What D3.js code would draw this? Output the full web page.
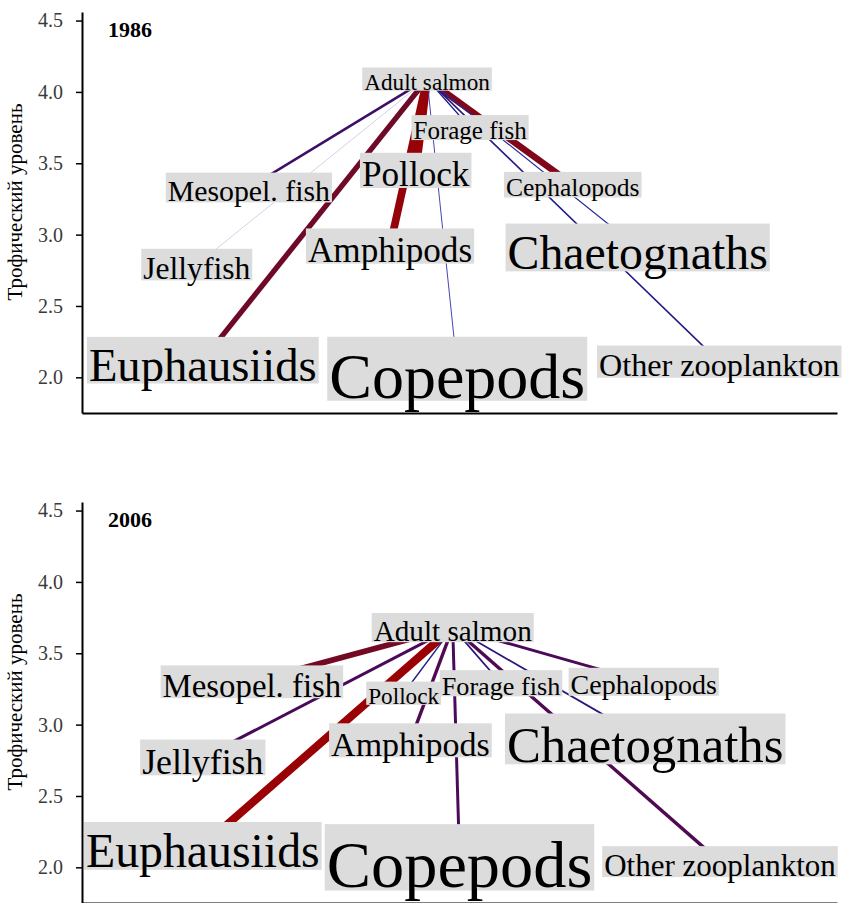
<!DOCTYPE html>
<html>
<head>
<meta charset="utf-8" />
<title>Trophic webs</title>
<script src="https://cdn.jsdelivr.net/npm/d3@7"></script>
<style>
    body { margin: 0; background: #fff; }
    .axis path, .axis line { stroke: #000; }
    .axis path { stroke-width: 2px; }
    .axis line { stroke-width: 1.5px; }
    .lbl { font-family: "Liberation Serif", "Times New Roman", serif; fill: #000; }
    .link { fill: none; stroke-linecap: butt; }
</style>
</head>
<body>
<svg width="844" height="903"></svg>
<script>

    // groups of the food web (index 0 = predator)
    var groups = ["Adult salmon", "Forage fish", "Pollock", "Cephalopods", "Mesopel. fish",
                  "Chaetognaths", "Amphipods", "Jellyfish", "Euphausiids", "Copepods", "Other zooplankton"];

    var yTicks = [2.0, 2.5, 3.0, 3.5, 4.0, 4.5];

    // trophic level of each group
    var tl1986 = [4.09, 3.75, 3.45, 3.35, 3.33, 2.91, 2.92, 2.79, 2.12, 2.06, 2.11];
    var tl2006 = [3.68, 3.29, 3.22, 3.30, 3.30, 2.90, 2.89, 2.77, 2.15, 2.07, 2.04];

    // horizontal layout position (0..1)
    var pos1986 = [0.457, 0.514, 0.442, 0.650, 0.221, 0.736, 0.408, 0.152, 0.160, 0.497, 0.844];
    var pos2006 = [0.491, 0.555, 0.426, 0.744, 0.225, 0.746, 0.435, 0.160, 0.160, 0.500, 0.845];

    // relative biomass (label size)
    var bio1986 = [0.22, 0.25, 0.42, 0.26, 0.33, 0.63, 0.42, 0.36, 0.61, 0.90, 0.37];
    var bio2006 = [0.32, 0.27, 0.22, 0.30, 0.38, 0.68, 0.40, 0.43, 0.63, 0.94, 0.35];

    // diet flow adult salmon -> group
    var flow1986 = [null, 0.10, 0.95, 0.75, 0.25, 0.07, 0.90, 0.005, 0.60, 0.04, 0.12];
    var flow2006 = [null, 0.15, 0.10, 0.30, 0.65, 0.15, 0.35, 0.30, 0.95, 0.30, 0.35];

    var svg = d3.select("svg"),
        left = 82, right = 837, panelH = 401;

    var x = d3.scaleLinear().domain([0, 1]).range([left, right]);
    var y = d3.scaleLinear().domain([1.75, 4.56]).range([panelH, 0]);

    var fontSize = d3.scaleLinear().domain([0, 1]).range([10, 70]);
    var width = d3.scaleLinear().domain([0, 1]).range([0.6, 8.5]);
    var color = d3.scaleLinear()
        .domain([0, 0.03, 0.1, 0.3, 0.6, 1])
        .range(["#d0d0e8", "#3838b0", "#1c1c88", "#4a0a5a", "#6e0a28", "#a00000"]);

    function drawPanel(top, year, tl, pos, bio, flow) {
        var g = svg.append("g").attr("transform", "translate(0," + top + ")");

        var ya = g.append("g")
            .attr("class", "axis")
            .attr("transform", "translate(" + left + ",0)")
            .call(d3.axisLeft(y).tickValues(yTicks).tickFormat(d3.format(".1f"))
                .tickSize(6).tickSizeOuter(0).tickPadding(13));
        ya.selectAll("text")
            .style("font-family", '"Liberation Serif", "Times New Roman", serif')
            .style("font-size", "20px")
            .attr("fill", "#3a3a3a");

        g.append("g")
            .attr("class", "axis")
            .attr("transform", "translate(0," + panelH + ")")
            .call(d3.axisBottom(x).tickValues([]).tickSizeOuter(0));

        g.append("text")
            .attr("class", "lbl")
            .attr("transform", "translate(22," + 190 + ") rotate(-90)")
            .attr("text-anchor", "middle")
            .style("font-size", "21px")
            .text("Трофический уровень");

        g.append("text")
            .attr("class", "lbl")
            .attr("x", 108).attr("y", 25)
            .style("font-size", "22px")
            .style("font-weight", "bold")
            .text(year);

        var nodes = groups.map(function (d, i) {
            return { name: d, tl: tl[i], pos: pos[i], bio: bio[i], flow: flow[i] };
        });

        var links = nodes.slice(1).sort(function (a, b) { return b.flow - a.flow; });

        g.selectAll(".link")
            .data(links)
            .enter().append("line")
            .attr("class", "link")
            .attr("x1", x(nodes[0].pos)).attr("y1", y(nodes[0].tl))
            .attr("x2", function (d) { return x(d.pos); })
            .attr("y2", function (d) { return y(d.tl); })
            .attr("stroke", function (d) { return color(d.flow); })
            .attr("stroke-width", function (d) { return width(d.flow); });

        var node = g.selectAll(".node")
            .data(nodes)
            .enter().append("g")
            .attr("class", "node")
            .attr("transform", function (d) { return "translate(" + x(d.pos) + "," + y(d.tl) + ")"; });

        node.each(function (d) {
            var n = d3.select(this), f = fontSize(d.bio);
            var rect = n.append("rect").attr("fill", "#dcdcdc");
            var t = n.append("text")
                .attr("class", "lbl")
                .attr("text-anchor", "middle")
                .attr("y", 0.45 * f)
                .style("font-size", f + "px")
                .text(d.name);
            var w = t.node().getComputedTextLength() + 4;
            rect.attr("x", -w / 2).attr("y", -0.5 * f).attr("width", w).attr("height", f);
        });
    }

    drawPanel(12, "1986", tl1986, pos1986, bio1986, flow1986);
    drawPanel(502, "2006", tl2006, pos2006, bio2006, flow2006);

</script>
</body>
</html>
